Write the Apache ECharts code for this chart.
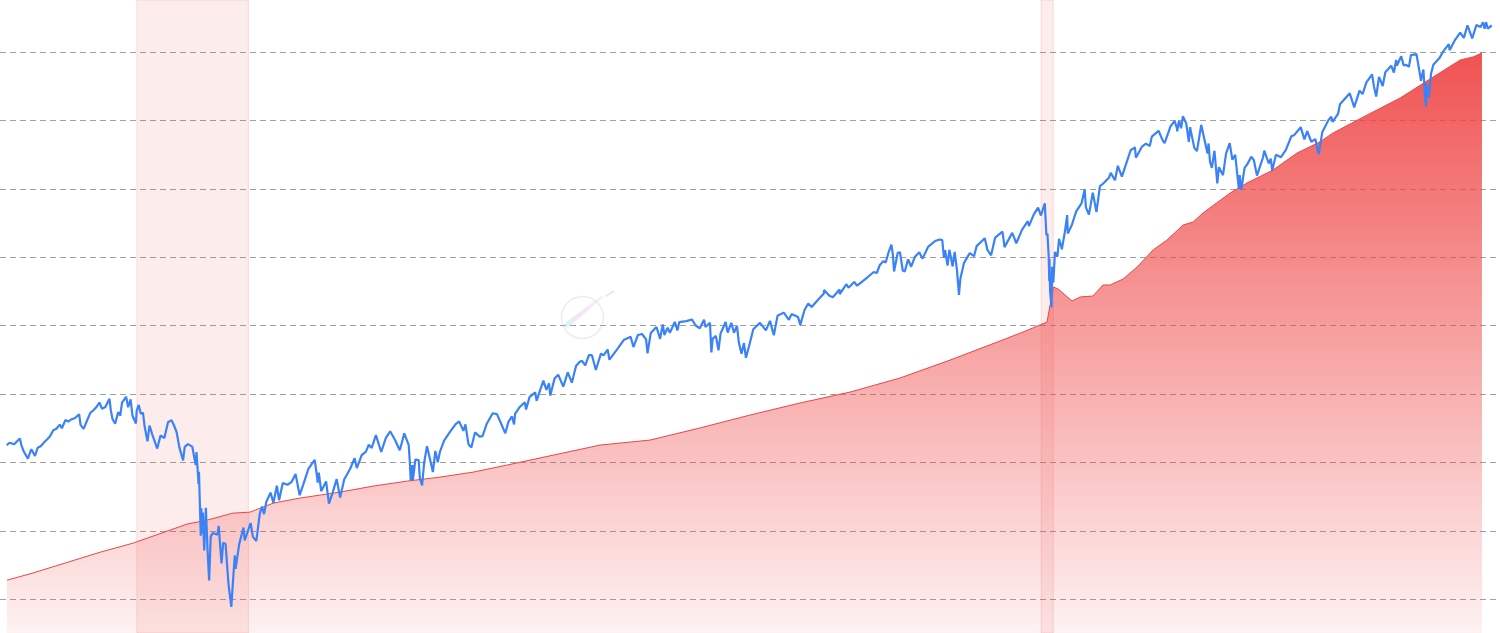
<!DOCTYPE html>
<html><head><meta charset="utf-8">
<script src="https://cdn.jsdelivr.net/npm/echarts@6/dist/echarts.min.js"></script>
<style>html,body{margin:0;padding:0;background:#fff;overflow:hidden}#c{width:1500px;height:633px}</style>
</head><body><div id="c"></div>
<script>
// S&P 500 (blue line)
const spxDates = [
'2006-03-01','2006-03-15','2006-04-07','2006-04-21','2006-05-05','2006-05-12','2006-05-24','2006-06-13','2006-06-30','2006-07-18','2006-07-31','2006-08-15','2006-08-31','2006-09-15','2006-09-29','2006-10-16','2006-10-31','2006-11-17','2006-11-27','2006-12-15','2006-12-29',
'2007-01-12','2007-01-31','2007-02-20','2007-02-27','2007-03-14','2007-03-30','2007-04-16','2007-04-30','2007-05-15','2007-05-31','2007-06-12','2007-06-29','2007-07-19','2007-07-26','2007-08-03','2007-08-16','2007-08-31','2007-09-10','2007-09-19','2007-10-09','2007-10-19','2007-10-31','2007-11-09','2007-11-26','2007-11-30','2007-12-10','2007-12-20','2007-12-31',
'2008-01-08','2008-01-22','2008-02-01','2008-02-14','2008-03-10','2008-03-17','2008-03-26','2008-04-14','2008-05-02','2008-05-19','2008-05-30','2008-06-13','2008-06-27','2008-07-15','2008-07-23','2008-08-08','2008-08-29','2008-09-15','2008-09-19','2008-09-29','2008-10-01','2008-10-10','2008-10-13','2008-10-15','2008-10-20','2008-10-27','2008-11-04','2008-11-12','2008-11-20','2008-11-28','2008-12-08','2008-12-16','2008-12-31',
'2009-01-06','2009-01-20','2009-01-28','2009-02-09','2009-02-23','2009-03-09','2009-03-26','2009-03-30','2009-04-17','2009-05-08','2009-05-14','2009-06-12','2009-06-23','2009-07-10','2009-07-27','2009-08-07','2009-08-17','2009-08-28','2009-09-18','2009-10-02','2009-10-19','2009-10-30','2009-11-17','2009-12-10','2009-12-31',
'2010-01-19','2010-02-08','2010-02-26','2010-03-23','2010-04-23','2010-05-06','2010-05-07','2010-05-13','2010-05-25','2010-06-18','2010-07-02','2010-07-21','2010-08-09','2010-08-26','2010-09-15','2010-10-15','2010-11-05','2010-11-16','2010-12-10','2010-12-31',
'2011-01-14','2011-01-28','2011-02-18','2011-03-16','2011-04-08','2011-04-29','2011-05-23','2011-06-15','2011-06-30','2011-07-07','2011-07-29','2011-08-04','2011-08-08','2011-08-10','2011-08-16','2011-08-19','2011-08-31','2011-09-16','2011-09-22','2011-10-03','2011-10-13','2011-10-27','2011-11-09','2011-11-25','2011-12-07','2011-12-19','2011-12-30',
'2012-01-19','2012-02-17','2012-03-16','2012-04-02','2012-04-23','2012-05-03','2012-05-18','2012-06-01','2012-06-19','2012-07-12','2012-07-26','2012-08-16','2012-09-14','2012-10-05','2012-10-23','2012-11-15','2012-11-30','2012-12-18','2012-12-28',
'2013-01-02','2013-01-25','2013-02-19','2013-02-25','2013-03-14','2013-04-11','2013-04-18','2013-05-21','2013-06-05','2013-06-18','2013-06-24','2013-07-15','2013-08-02','2013-08-27','2013-09-18','2013-10-08','2013-10-29','2013-11-15','2013-11-27','2013-12-13','2013-12-31',
'2014-01-15','2014-02-03','2014-02-28','2014-03-13','2014-04-02','2014-04-11','2014-05-23','2014-06-20','2014-07-24','2014-08-07','2014-08-29','2014-09-18','2014-10-08','2014-10-15','2014-10-31','2014-11-28','2014-12-05','2014-12-16','2014-12-29',
'2015-01-06','2015-01-22','2015-02-02','2015-02-26','2015-03-11','2015-03-20','2015-04-24','2015-05-21','2015-06-09','2015-06-29','2015-07-20','2015-07-27','2015-08-18','2015-08-25','2015-08-31','2015-09-16','2015-09-29','2015-10-09','2015-11-03','2015-11-13','2015-12-01','2015-12-14','2015-12-29',
'2016-01-07','2016-01-20','2016-02-01','2016-02-11','2016-02-29','2016-03-18','2016-04-20','2016-05-19','2016-06-08','2016-06-27','2016-07-15','2016-08-15','2016-09-09','2016-09-22','2016-10-24','2016-11-04','2016-11-25','2016-12-13','2016-12-30',
'2017-01-26','2017-02-28','2017-03-01','2017-03-27','2017-04-13','2017-05-16','2017-05-17','2017-06-19','2017-06-29','2017-07-27','2017-08-10','2017-08-18','2017-09-29','2017-10-31','2017-11-15','2017-11-30','2017-12-18','2017-12-29',
'2018-01-12','2018-01-26','2018-02-02','2018-02-08','2018-02-26','2018-03-09','2018-03-23','2018-04-02','2018-04-18','2018-05-03','2018-05-21','2018-06-12','2018-06-28','2018-07-25','2018-08-29','2018-09-20','2018-10-03','2018-10-11','2018-10-17','2018-10-29','2018-11-07','2018-11-23','2018-12-03','2018-12-14','2018-12-24','2018-12-31',
'2019-01-18','2019-02-15','2019-03-08','2019-03-21','2019-04-30','2019-05-13','2019-05-31','2019-06-20','2019-07-26','2019-08-05','2019-08-14','2019-09-12','2019-10-02','2019-10-30','2019-11-27','2019-12-03','2019-12-27',
'2020-01-17','2020-01-31','2020-02-19','2020-02-27','2020-03-03','2020-03-09','2020-03-12','2020-03-13','2020-03-16','2020-03-18','2020-03-23','2020-03-26','2020-04-01','2020-04-09','2020-04-21','2020-04-29','2020-05-13','2020-05-29','2020-06-08','2020-06-11','2020-06-30','2020-07-22','2020-08-18','2020-09-02','2020-09-08','2020-09-23','2020-10-12','2020-10-30','2020-11-16','2020-12-01','2020-12-31',
'2021-01-08','2021-01-29','2021-02-12','2021-03-04','2021-03-26','2021-04-16','2021-05-07','2021-05-12','2021-06-11','2021-06-30','2021-07-19','2021-07-29','2021-08-31','2021-09-02','2021-09-20','2021-09-30','2021-10-04','2021-10-29','2021-11-18','2021-11-30','2021-12-01','2021-12-10','2021-12-20','2021-12-29',
'2022-01-03','2022-01-14','2022-01-27','2022-02-02','2022-02-23','2022-03-08','2022-03-29','2022-04-11','2022-04-29','2022-05-04','2022-05-11','2022-05-20','2022-06-02','2022-06-16','2022-06-24','2022-07-14','2022-07-29','2022-08-16','2022-08-29','2022-09-12','2022-09-30','2022-10-04','2022-10-12','2022-10-28','2022-11-10','2022-11-30','2022-12-13','2022-12-28',
'2023-01-05','2023-01-27','2023-02-02','2023-02-24','2023-03-06','2023-03-13','2023-03-31','2023-04-25','2023-05-19','2023-06-15','2023-06-30','2023-07-31','2023-08-18','2023-09-01','2023-09-21','2023-10-11','2023-10-27','2023-11-14','2023-12-14','2023-12-28',
'2024-01-04','2024-01-31','2024-02-09','2024-03-28','2024-04-19','2024-05-15','2024-05-30','2024-06-18','2024-07-16','2024-07-25','2024-08-05','2024-08-19','2024-09-06','2024-09-19','2024-10-18','2024-10-31','2024-11-11','2024-11-15','2024-12-06','2024-12-18','2024-12-31',
'2025-01-13','2025-01-23','2025-02-19','2025-03-10','2025-03-13','2025-03-25','2025-04-04','2025-04-08','2025-04-09','2025-04-21','2025-05-02','2025-05-13','2025-05-21','2025-06-12','2025-06-30','2025-07-28','2025-08-01','2025-08-28','2025-09-22','2025-10-10','2025-10-28','2025-11-20','2025-12-11','2025-12-31',
'2026-01-12','2026-01-20','2026-01-27','2026-02-05','2026-02-13','2026-02-24'
];
const spxValues = [
1291,1303,1295,1311,1325,1291,1258,1223,1270,1236,1277,1285,1304,1320,1336,1370,1378,1401,1381,1427,1418,
1430,1438,1460,1399,1377,1421,1468,1482,1501,1530,1493,1503,1553,1482,1433,1406,1473,1451,1529,1565,1501,1549,1453,1407,1481,1515,1463,1468,
1390,1310,1396,1349,1273,1277,1341,1328,1414,1426,1400,1360,1278,1214,1282,1296,1283,1192,1255,1106,1161,899,1003,907,986,848,1005,853,752,896,909,913,903,
935,805,874,870,743,677,832,788,870,929,883,946,895,880,982,1010,980,1029,1068,1025,1098,1036,1110,1102,1115,
1150,1057,1104,1174,1217,1128,1111,1157,1074,1117,1022,1070,1127,1047,1125,1176,1225,1178,1240,1258,
1293,1276,1343,1256,1329,1364,1317,1265,1321,1353,1292,1200,1119,1120,1192,1124,1219,1216,1130,1099,1203,1285,1229,1159,1261,1206,1258,
1314,1361,1404,1419,1366,1402,1295,1278,1358,1335,1338,1406,1466,1461,1413,1353,1416,1447,1402,
1462,1503,1531,1488,1563,1593,1541,1669,1609,1652,1573,1683,1710,1630,1725,1656,1771,1798,1807,1775,1848,
1848,1742,1859,1846,1890,1815,1900,1963,1988,1909,2003,2011,1968,1862,2018,2068,2075,1972,2090,
2003,2063,2020,2110,2040,2108,2117,2131,2080,2057,2128,2068,2102,1868,1972,1996,1884,2014,2109,2023,2103,2021,2078,
1943,1859,1939,1829,1932,2049,2102,2040,2119,2001,2162,2190,2128,2177,2151,2085,2213,2271,2239,
2296,2364,2396,2342,2329,2401,2357,2453,2419,2475,2438,2426,2519,2575,2565,2648,2690,2674,
2786,2873,2762,2581,2780,2786,2588,2582,2708,2630,2733,2786,2716,2846,2914,2931,2926,2728,2809,2641,2814,2633,2790,2600,2351,2507,
2671,2776,2743,2855,2946,2812,2752,2954,3026,2844,2840,3010,2888,3047,3154,3093,3240,
3330,3226,3386,2979,3003,2747,2481,2711,2386,2399,2237,2630,2471,2790,2737,2940,2820,3044,3232,3002,3100,3276,3390,3580,3332,3237,3535,3270,3627,3662,3756,
3825,3714,3934,3768,3975,4185,4233,4063,4247,4298,4258,4419,4523,4537,4358,4308,4300,4605,4704,4567,4513,4712,4568,4793,
4797,4663,4327,4589,4225,4171,4632,4413,4132,4300,4001,3901,4177,3667,3912,3790,4130,4305,4030,4110,3586,3791,3577,3901,3956,4080,4019,3783,
3808,4070,4179,3970,4048,3855,4109,4071,4192,4426,4450,4589,4370,4516,4330,4376,4117,4496,4720,4783,
4688,4846,5027,5254,4967,5308,5236,5487,5667,5400,5186,5608,5408,5713,5864,5705,6001,5870,6090,5872,5882,
5836,6119,6144,5614,5522,5777,5074,4983,5457,5158,5687,5886,5845,6045,6205,6390,6238,6502,6694,6553,6891,6539,6901,6846,
6977,6797,6978,6798,6836,6890
];
// Red area series (same scale)
const redDates = [
'2006-03-02','2006-07-08','2007-06-03','2007-11-12','2008-08-04','2008-11-10','2009-03-17','2009-06-09','2009-10-01','2010-02-10','2010-08-25','2011-02-04','2011-07-20','2011-12-30','2012-06-10','2012-11-23','2014-02-24','2014-10-27','2015-06-29','2016-03-01','2016-11-03','2017-07-07','2018-03-09','2018-11-10','2019-07-13','2019-11-04','2020-03-01','2020-04-01','2020-04-25','2020-07-02','2020-08-11','2020-10-13','2020-12-01','2021-01-05','2021-03-10','2021-05-18','2021-08-04','2021-10-12','2021-12-30','2022-02-17','2022-04-07','2022-08-18','2022-11-09','2023-03-17','2023-07-13','2023-11-02','2024-01-06','2024-06-22','2024-12-01','2025-05-12','2025-09-22','2025-11-24','2026-01-07'
];
const redValues = [
753,775,842,873,942,957,984,988,1024,1045,1070,1096,1118,1136,1159,1192,1291,1317,1382,1455,1527,1595,1687,1812,1955,2027,2109,2426,2406,2294,2331,2340,2445,2445,2504,2627,2811,2926,3106,3144,3259,3529,3673,3868,4140,4326,4484,4818,5156,5606,6000,6072,6170
];
// Recession periods
const recessionStart = ['2007-12-01','2020-02-01'];
const recessionEnd = ['2009-06-01','2020-04-01'];
// Axis range
const xRange = ['2006-01-27','2026-03-17'];
const yRange = [610, 7622];

const spx = spxDates.map((d,i)=>[d, spxValues[i]]);
const red = redDates.map((d,i)=>[d, redValues[i]]);
const bands = recessionStart.map((s,i)=>[{xAxis:s},{xAxis:recessionEnd[i]}]);

const chart = echarts.init(document.getElementById('c'), null, {renderer:'canvas'});
chart.setOption({
  animation:false,
  backgroundColor:'#ffffff',
  grid:{left:0,right:4,top:0,bottom:0,containLabel:false},
  xAxis:{type:'time',min:xRange[0],max:xRange[1],
    axisLine:{show:false},axisTick:{show:false},axisLabel:{show:false},splitLine:{show:false}},
  yAxis:{type:'log',logBase:1.3137,min:yRange[0],max:yRange[1],
    axisLine:{show:false},axisTick:{show:false},axisLabel:{show:false},
    splitLine:{show:true,showMinLine:false,showMaxLine:false,lineStyle:{color:'#a0a0a0',width:1,type:[6,4]}}},
  graphic:[
    {type:'circle',left:559,top:294,shape:{r:21},style:{fill:'none',stroke:'rgba(200,200,215,0.35)',lineWidth:1.5},z:0},
    {type:'polygon',shape:{points:[[566,328],[571,325],[604,297],[601,296],[565,323]]},
      style:{fill:new echarts.graphic.LinearGradient(0,1,1,0,[{offset:0,color:'rgba(170,240,250,0.5)'},{offset:0.4,color:'rgba(235,190,240,0.45)'},{offset:1,color:'rgba(220,220,245,0.3)'}])},z:0},
    {type:'line',shape:{x1:606,y1:296,x2:614,y2:291},style:{stroke:'rgba(215,215,235,0.6)',lineWidth:2},z:0}
  ],
  series:[
    {type:'line',name:'red',data:red,symbol:'none',z:2,
      lineStyle:{color:'#ef4444',width:1},
      areaStyle:{opacity:1,color:new echarts.graphic.LinearGradient(0,0,0,1,[{offset:0,color:'rgba(239,68,68,0.92)'},{offset:1,color:'rgba(239,68,68,0.07)'}])},
      markArea:{silent:true,itemStyle:{color:'rgba(239,68,68,0.1)',borderColor:'rgba(239,68,68,0.16)',borderWidth:1},data:bands}},
    {type:'line',name:'spx',data:spx,symbol:'none',z:3,
      lineStyle:{color:'#3b82f6',width:2.2}}
  ]
});
</script>
</body></html>
